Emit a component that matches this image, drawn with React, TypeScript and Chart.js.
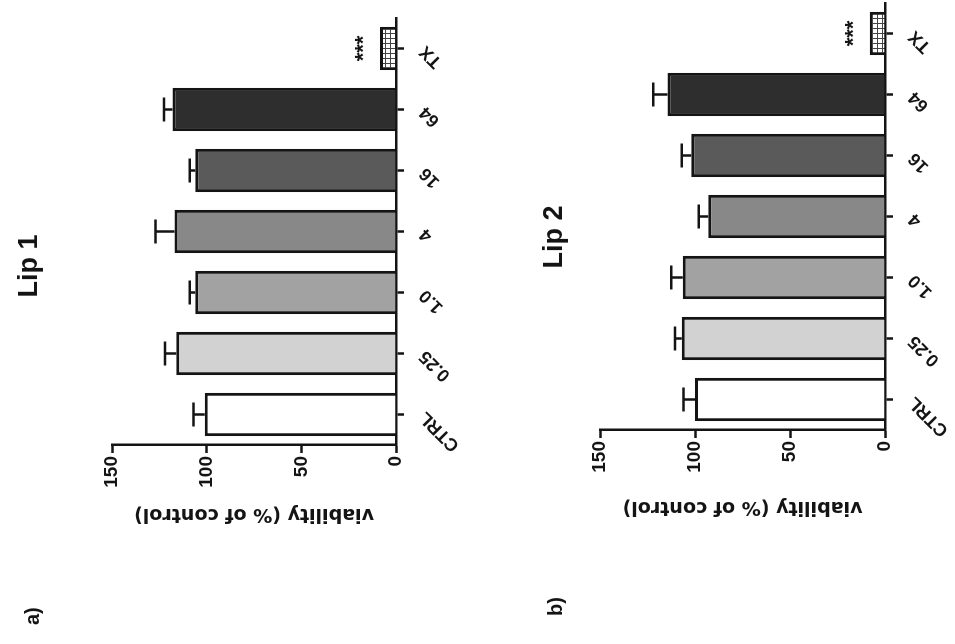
import React, { useEffect, useRef } from "react";
import { Chart, registerables } from "chart.js";

Chart.register(...registerables);

// ---- data ----
const categories = ["CTRL", "0.25", "1.0", "4", "16", "64", "TX"];
const lip1Values = [101, 116, 106, 117, 106, 118, 8.5];
const lip1Errors = [6, 6, 3, 10, 3, 4.5, 0];
const lip2Values = [100, 107, 106.5, 93, 102, 114.5, 8];
const lip2Errors = [6, 3.5, 6, 5, 5, 7.5, 0];
const significance = ["", "", "", "", "", "", "***"];
const valueTicks = [0, 50, 100, 150];
const barColors = ["#ffffff", "#d2d2d2", "#a2a2a2", "#888888", "#5a5a5a", "#2e2e2e", "pattern"];
const axisTitle = "viability (% of control)";

const FONT = "'Liberation Sans', Arial, sans-serif";
const TITLE_FONT = "'DejaVu Sans', Verdana, sans-serif";
const INK = "#141414";

function makePattern(): CanvasPattern | string {
  const c = document.createElement("canvas");
  c.width = 5;
  c.height = 5;
  const g = c.getContext("2d");
  if (!g) return "#ffffff";
  g.fillStyle = "#ffffff";
  g.fillRect(0, 0, 5, 5);
  g.fillStyle = "#444444";
  g.fillRect(0, 0, 5, 1);
  g.fillRect(0, 0, 1, 5);
  return g.createPattern(c, "repeat") || "#ffffff";
}

const errorBarPlugin = {
  id: "errorBars",
  afterDatasetsDraw(chart: any, _args: any, opts: any) {
    const { ctx } = chart;
    const yScale = chart.scales.y;
    const meta = chart.getDatasetMeta(0);
    const values = chart.data.datasets[0].data as number[];
    const errs: number[] = opts.errors || [];
    const marks: string[] = opts.marks || [];
    ctx.save();
    meta.data.forEach((bar: any, i: number) => {
      const x = bar.x;
      const err = errs[i] || 0;
      if (err > 0) {
        const yTop = yScale.getPixelForValue(values[i] + err);
        ctx.strokeStyle = INK;
        ctx.lineWidth = 2.5;
        ctx.beginPath();
        ctx.moveTo(x, bar.y);
        ctx.lineTo(x, yTop);
        ctx.moveTo(x - 12, yTop);
        ctx.lineTo(x + 12, yTop);
        ctx.stroke();
      }
      if (marks[i]) {
        ctx.fillStyle = INK;
        ctx.font = `bold 22px ${FONT}`;
        ctx.textAlign = "center";
        ctx.textBaseline = "alphabetic";
        ctx.fillText(marks[i], x, bar.y - 10);
      }
    });
    ctx.restore();
  },
};

type PanelProps = {
  values: number[];
  errors: number[];
  top: number;
  height: number;
  padTop: number;
  padRight: number;
  padBottom: number;
  axisWidth: number;
  catHeight: number;
  titlePad: number;
};

function Panel(p: PanelProps) {
  const ref = useRef<HTMLCanvasElement | null>(null);
  useEffect(() => {
    if (!ref.current) return;
    const pattern = makePattern();
    const colors = barColors.map((c) => (c === "pattern" ? pattern : c));
    const chart = new Chart(ref.current, {
      type: "bar",
      data: {
        labels: categories,
        datasets: [
          {
            data: p.values,
            backgroundColor: colors as any,
            borderColor: INK,
            borderWidth: 3,
            barPercentage: 0.71,
            categoryPercentage: 1,
          },
        ],
      },
      plugins: [errorBarPlugin as any],
      options: {
        animation: false,
        responsive: false,
        maintainAspectRatio: false,
        layout: { padding: { top: p.padTop, right: p.padRight, bottom: p.padBottom, left: 0 } },
        plugins: {
          legend: { display: false },
          tooltip: { enabled: false },
          title: { display: false },
          errorBars: { errors: p.errors, marks: significance },
        } as any,
        scales: {
          x: {
            type: "category",
            offset: true,
            grid: {
              display: true,
              offset: false,
              drawOnChartArea: false,
              drawTicks: true,
              tickLength: 8,
              tickColor: INK,
              tickWidth: 2.5,
            },
            border: { display: true, color: INK, width: 2.5 },
            ticks: {
              autoSkip: false,
              minRotation: 45,
              maxRotation: 45,
              color: INK,
              padding: 11,
              font: { family: FONT, size: 18, weight: "bold" },
            },
            afterFit: (s: any) => {
              s.height = p.catHeight;
            },
          },
          y: {
            min: 0,
            max: 150,
            afterBuildTicks: (s: any) => {
              s.ticks = valueTicks.map((v) => ({ value: v }));
            },
            grid: {
              display: true,
              drawOnChartArea: false,
              drawTicks: true,
              tickLength: 8,
              tickColor: INK,
              tickWidth: 2.5,
            },
            border: { display: true, color: INK, width: 2.5 },
            ticks: {
              color: INK,
              padding: 3,
              font: { family: FONT, size: 19, weight: "bold" },
            },
            title: {
              display: true,
              text: axisTitle,
              color: INK,
              font: { family: TITLE_FONT, size: 19, weight: "bold" },
              padding: { top: p.titlePad, bottom: 0 },
            },
            afterFit: (s: any) => {
              s.width = p.axisWidth;
            },
          },
        },
      } as any,
    });
    return () => chart.destroy();
  }, []);
  return (
    <canvas
      ref={ref}
      width={644}
      height={p.height}
      style={{ position: "absolute", left: 0, top: p.top, width: 644, height: p.height }}
    />
  );
}

const labelStyle = (left: number, top: number, size: number, width?: number): React.CSSProperties => ({
  position: "absolute",
  left,
  top,
  width,
  textAlign: width ? "center" : "left",
  fontFamily: FONT,
  fontWeight: "bold",
  fontSize: size,
  lineHeight: 1,
  color: INK,
  whiteSpace: "nowrap",
});

export default function App() {
  return (
    <div
      style={{
        position: "fixed",
        left: 0,
        top: 0,
        width: 644,
        height: 955,
        background: "#ffffff",
        transformOrigin: "0 0",
        transform: "translate(0px, 644px) rotate(-90deg)",
        overflow: "hidden",
      }}
    >
      <Panel
        values={lip1Values}
        errors={lip1Errors}
        top={0}
        height={480}
        padTop={112}
        padRight={18}
        padBottom={0}
        axisWidth={199}
        catHeight={84}
        titlePad={119}
      />
      <Panel
        values={lip2Values}
        errors={lip2Errors}
        top={477}
        height={478}
        padTop={123}
        padRight={3}
        padBottom={0}
        axisWidth={214}
        catHeight={70}
        titlePad={126}
      />
      <div style={labelStyle(19, 22, 20)}>a)</div>
      <div style={labelStyle(28, 545, 20)}>b)</div>
      <div style={labelStyle(278, 15, 27, 200)}>Lip 1</div>
      <div style={labelStyle(307, 540, 27, 200)}>Lip 2</div>
    </div>
  );
}
